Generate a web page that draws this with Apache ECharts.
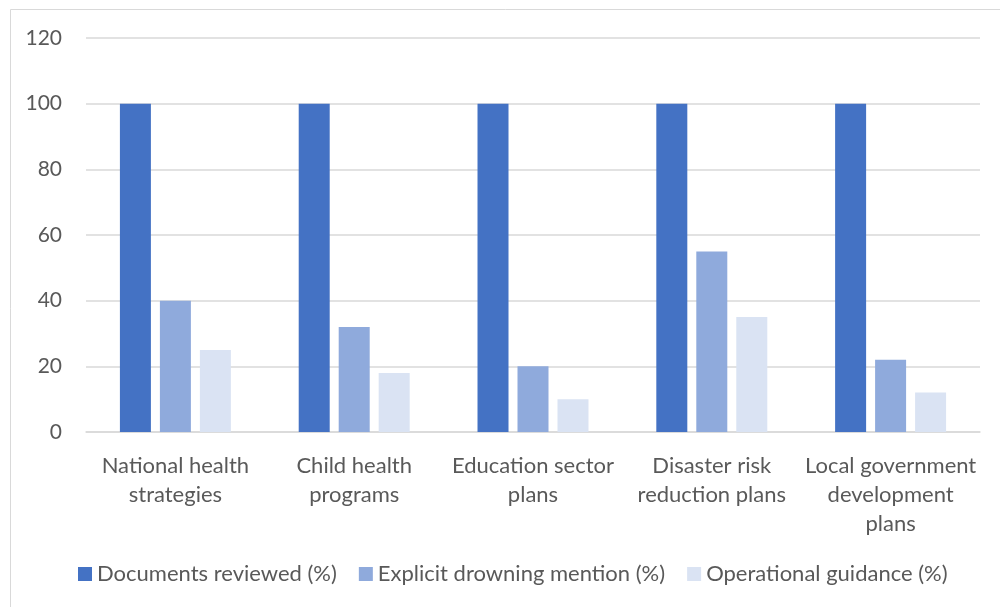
<!DOCTYPE html>
<html><head><meta charset="utf-8">
<script src="https://cdn.jsdelivr.net/npm/echarts@6/dist/echarts.min.js"></script>
<style>html,body{margin:0;padding:0;background:#fff}#c{width:1000px;height:607px}</style>
</head><body><div id="c"></div>
<script>
var categories = ['National health\nstrategies','Child health\nprograms','Education sector\nplans','Disaster risk\nreduction plans','Local government\ndevelopment\nplans'];
var seriesNames = ['Documents reviewed (%)','Explicit drowning mention (%)','Operational guidance (%)'];
var documentsReviewed = [100,100,100,100,100];
var explicitMention = [40,32,20,55,22];
var operationalGuidance = [25,18,10,35,12];
var colors = ['#4472C4','#8FAADC','#DAE3F3'];
var font = 'Lato';
var chart = echarts.init(document.getElementById('c'));
var data = [documentsReviewed, explicitMention, operationalGuidance];
chart.setOption({
  animation:false,
  textStyle:{fontFamily:font},
  graphic:[{type:'rect',shape:{x:10.5,y:9.5,width:1100,height:700},style:{fill:'none',stroke:'#D9D9D9',lineWidth:1},z:-1}],
  grid:{left:86,right:20,top:38,bottom:175,containLabel:false},
  legend:{top:563,left:78,padding:0,itemWidth:14,itemHeight:14,itemGap:22,icon:'rect',
    textStyle:{color:'#595959',fontSize:22,fontFamily:font},data:seriesNames},
  xAxis:{type:'category',data:categories,
    axisLine:{lineStyle:{color:'#D9D9D9',width:1.5}},axisTick:{show:false},
    axisLabel:{color:'#595959',fontSize:22,lineHeight:29,margin:19,interval:0,fontFamily:font}},
  yAxis:{type:'value',min:0,max:120,interval:20,
    axisLine:{show:false},axisTick:{show:false},
    splitLine:{lineStyle:{color:'#D9D9D9',width:1.5}},
    axisLabel:{color:'#595959',fontSize:21,margin:24,fontFamily:font}},
  series:seriesNames.map(function(n,i){return {name:n,type:'bar',data:data[i],barWidth:31,barGap:'29%',itemStyle:{color:colors[i]}};})
});
</script></body></html>
